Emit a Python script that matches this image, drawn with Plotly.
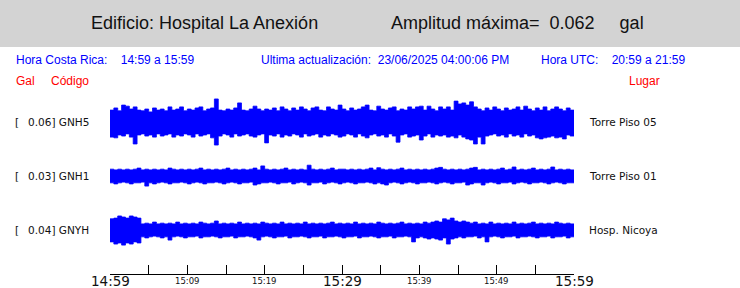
import plotly.graph_objects as go

# ---------------- data ----------------
station_codes = ["GNH5", "GNH1", "GNYH"]
station_places = ["Torre Piso 05", "Torre Piso 01", "Hosp. Nicoya"]
station_max_gal = ["0.06", "0.03", "0.04"]

tick_minutes = [0, 5, 10, 15, 20, 25, 30, 35, 40, 45, 50, 55, 60]
label_minutes = [0, 10, 20, 30, 40, 50, 60]
label_texts = ["14:59", "15:09", "15:19", "15:29", "15:39", "15:49", "15:59"]
label_big = [True, False, False, True, False, False, True]

# envelope of each record (gal), half-minute bins, above / below the trace line
gnh5_up = [0.033,0.039,0.031,0.047,0.044,0.036,0.042,0.033,0.031,0.036,0.028,0.039,0.033,0.036,0.031,0.042,
           0.033,0.036,0.042,0.031,0.036,0.033,0.039,0.042,0.031,0.036,0.039,0.064,0.033,0.031,0.036,0.033,
           0.039,0.053,0.033,0.031,0.036,0.044,0.036,0.031,0.036,0.033,0.039,0.031,0.042,0.036,0.031,0.039,
           0.033,0.042,0.036,0.031,0.039,0.042,0.033,0.031,0.042,0.036,0.033,0.047,0.036,0.031,0.039,0.033,
           0.036,0.042,0.047,0.033,0.031,0.044,0.036,0.033,0.039,0.042,0.031,0.036,0.033,0.042,0.036,0.042,
           0.044,0.033,0.044,0.036,0.031,0.042,0.036,0.042,0.033,0.058,0.050,0.053,0.047,0.056,0.042,0.036,
           0.031,0.039,0.033,0.042,0.036,0.031,0.039,0.033,0.036,0.042,0.033,0.044,0.036,0.031,0.039,0.033,
           0.042,0.031,0.036,0.042,0.036,0.031,0.039,0.033]
gnh5_dn = [0.042,0.044,0.036,0.039,0.033,0.042,0.061,0.036,0.033,0.039,0.036,0.042,0.033,0.039,0.036,0.033,
           0.042,0.036,0.039,0.033,0.036,0.042,0.033,0.039,0.036,0.033,0.044,0.064,0.039,0.033,0.036,0.042,
           0.033,0.039,0.036,0.033,0.039,0.042,0.036,0.033,0.058,0.036,0.039,0.033,0.042,0.036,0.039,0.033,
           0.036,0.042,0.033,0.039,0.036,0.033,0.042,0.036,0.039,0.033,0.036,0.042,0.039,0.033,0.036,0.042,
           0.033,0.039,0.044,0.036,0.033,0.039,0.036,0.042,0.033,0.039,0.056,0.036,0.033,0.042,0.039,0.036,
           0.050,0.039,0.033,0.042,0.036,0.039,0.036,0.042,0.039,0.044,0.036,0.042,0.047,0.050,0.061,0.042,
           0.061,0.039,0.036,0.033,0.039,0.036,0.042,0.033,0.039,0.036,0.042,0.033,0.039,0.036,0.044,0.047,
           0.044,0.042,0.039,0.044,0.042,0.047,0.036,0.039]
gnh1_up = [0.019,0.017,0.019,0.017,0.019,0.017,0.019,0.022,0.017,0.019,0.017,0.019,0.017,0.019,0.017,0.022,
           0.019,0.017,0.019,0.017,0.019,0.017,0.019,0.022,0.017,0.019,0.017,0.019,0.017,0.019,0.022,0.017,
           0.019,0.017,0.019,0.017,0.019,0.022,0.017,0.028,0.019,0.017,0.019,0.017,0.019,0.022,0.017,0.019,
           0.017,0.019,0.017,0.030,0.019,0.017,0.019,0.017,0.019,0.022,0.017,0.019,0.019,0.017,0.019,0.017,
           0.019,0.017,0.019,0.022,0.017,0.023,0.019,0.017,0.019,0.017,0.019,0.022,0.017,0.019,0.017,0.019,
           0.017,0.019,0.017,0.019,0.022,0.024,0.019,0.017,0.019,0.017,0.019,0.017,0.019,0.022,0.024,0.017,
           0.019,0.017,0.019,0.017,0.019,0.022,0.017,0.019,0.025,0.017,0.019,0.017,0.019,0.022,0.017,0.019,
           0.017,0.019,0.025,0.017,0.019,0.017,0.019,0.017]
gnh1_dn = [0.019,0.022,0.019,0.017,0.019,0.022,0.019,0.019,0.017,0.028,0.019,0.022,0.019,0.017,0.019,0.022,
           0.019,0.019,0.017,0.019,0.022,0.019,0.017,0.019,0.022,0.019,0.019,0.017,0.019,0.022,0.019,0.017,
           0.019,0.022,0.019,0.019,0.017,0.025,0.022,0.019,0.019,0.017,0.019,0.022,0.019,0.019,0.017,0.022,
           0.019,0.017,0.019,0.025,0.019,0.019,0.017,0.022,0.019,0.017,0.019,0.022,0.019,0.017,0.019,0.022,
           0.019,0.019,0.017,0.019,0.022,0.019,0.022,0.025,0.019,0.017,0.019,0.022,0.019,0.017,0.019,0.022,
           0.019,0.019,0.017,0.019,0.022,0.019,0.017,0.019,0.022,0.019,0.019,0.017,0.025,0.022,0.019,0.019,
           0.025,0.019,0.017,0.019,0.022,0.019,0.019,0.017,0.022,0.019,0.017,0.019,0.022,0.019,0.019,0.017,
           0.019,0.022,0.019,0.017,0.019,0.022,0.019,0.019]
gnyh_up = [0.031,0.033,0.039,0.036,0.033,0.039,0.036,0.033,0.017,0.019,0.017,0.022,0.017,0.019,0.017,0.019,
           0.017,0.022,0.017,0.019,0.017,0.019,0.017,0.022,0.019,0.017,0.019,0.025,0.017,0.019,0.017,0.019,
           0.017,0.022,0.017,0.019,0.017,0.019,0.017,0.022,0.019,0.017,0.019,0.017,0.022,0.017,0.019,0.017,
           0.019,0.017,0.022,0.017,0.019,0.017,0.019,0.017,0.019,0.022,0.017,0.019,0.017,0.019,0.017,0.022,
           0.017,0.019,0.017,0.019,0.017,0.022,0.019,0.017,0.019,0.017,0.019,0.022,0.017,0.019,0.017,0.019,
           0.017,0.022,0.019,0.022,0.025,0.022,0.031,0.028,0.033,0.025,0.022,0.025,0.022,0.019,0.022,0.017,
           0.019,0.017,0.022,0.017,0.019,0.017,0.019,0.017,0.022,0.017,0.019,0.017,0.019,0.022,0.017,0.019,
           0.017,0.019,0.017,0.022,0.019,0.017,0.019,0.017]
gnyh_dn = [0.033,0.039,0.036,0.042,0.036,0.039,0.033,0.036,0.019,0.022,0.019,0.017,0.019,0.022,0.019,0.028,
           0.019,0.017,0.019,0.022,0.019,0.019,0.017,0.022,0.019,0.019,0.017,0.019,0.022,0.019,0.019,0.017,
           0.022,0.019,0.019,0.017,0.019,0.022,0.028,0.019,0.017,0.019,0.022,0.019,0.019,0.017,0.022,0.019,
           0.019,0.017,0.019,0.022,0.019,0.019,0.017,0.022,0.019,0.019,0.017,0.019,0.022,0.019,0.019,0.017,
           0.022,0.019,0.019,0.017,0.019,0.022,0.019,0.019,0.017,0.022,0.019,0.019,0.017,0.019,0.033,0.022,
           0.019,0.022,0.025,0.022,0.025,0.028,0.022,0.039,0.025,0.022,0.019,0.022,0.019,0.019,0.017,0.022,
           0.019,0.033,0.019,0.017,0.019,0.022,0.019,0.019,0.017,0.022,0.019,0.019,0.017,0.019,0.022,0.019,
           0.019,0.017,0.022,0.019,0.019,0.017,0.022,0.019]

envelopes = [(gnh5_up, gnh5_dn), (gnh1_up, gnh1_dn), (gnyh_up, gnyh_dn)]
trace_spacing_gal = 0.15
record_minutes = 60

# ---------------- layout geometry (pixels) ----------------
W, H = 740, 288
px_x0, px_x1 = 110, 574          # plot left/right
px_top, px_bot = 90, 274         # plot top/bottom (axis line)
px_center0 = 122                  # first trace centre
px_spacing = 54
gal_per_px = trace_spacing_gal / px_spacing
y_top = (px_center0 - px_top) * gal_per_px
y_bot = -(px_bot - px_center0) * gal_per_px

def py(p):  # pixel row -> paper y
    return 1 - p / H

def px(p):
    return p / W

BLUE = "#0000ff"
RED = "#ff0000"
WAVE = "#0000ff"

fig = go.Figure()

for k, (up, dn) in enumerate(envelopes):
    c = -k * trace_spacing_gal
    n = len(up)
    t = [i * record_minutes / n for i in range(n)] + [record_minutes]
    lo = [c - v for v in dn] + [c - dn[-1]]
    hi = [c + v for v in up] + [c + up[-1]]
    fig.add_trace(go.Scatter(x=t, y=lo, mode="lines", line=dict(color=WAVE, width=0.8, shape="hv"),
                             hoverinfo="skip", showlegend=False))
    fig.add_trace(go.Scatter(x=t, y=hi, mode="lines", line=dict(color=WAVE, width=0.8, shape="hv"),
                             fill="tonexty", fillcolor=WAVE, hoverinfo="skip", showlegend=False))

ann = []
# header
head_font = dict(family="Liberation Sans Narrow, Liberation Sans, Arial", size=18, color="#111111")
ann.append(dict(text="Edificio: Hospital La Anexión", x=px(89), y=py(23), xref="paper", yref="paper",
                xanchor="left", yanchor="middle", showarrow=False, font=head_font))
ann.append(dict(text="Amplitud máxima=  0.062     gal", x=px(389), y=py(23), xref="paper", yref="paper",
                xanchor="left", yanchor="middle", showarrow=False, font=head_font))

info_font = dict(family="Liberation Sans Narrow, Liberation Sans, Arial", size=12, color=BLUE)
for txt, x0 in [("Hora Costa Rica:&nbsp;&nbsp;&nbsp;&nbsp;14:59 a 15:59", 14),
                ("Ultima actualización:&nbsp;&nbsp;23/06/2025 04:00:06 PM", 259),
                ("Hora UTC:&nbsp;&nbsp;&nbsp;&nbsp;20:59 a 21:59", 539)]:
    ann.append(dict(text=txt, x=px(x0), y=py(60), xref="paper", yref="paper", xanchor="left",
                    yanchor="middle", showarrow=False, font=info_font))
red_font = dict(family="Liberation Sans Narrow, Liberation Sans, Arial", size=12, color=RED)
for txt, x0 in [("Gal", 14), ("Código", 49), ("Lugar", 627)]:
    ann.append(dict(text=txt, x=px(x0), y=py(81), xref="paper", yref="paper", xanchor="left",
                    yanchor="middle", showarrow=False, font=red_font))

lab_font = dict(family="DejaVu Sans", size=10.5, color="#111111")
for k in range(len(station_codes)):
    c = -k * trace_spacing_gal
    ann.append(dict(text="[", x=px(13), y=c, xref="paper", yref="y", xanchor="left", yanchor="middle",
                    showarrow=False, font=lab_font))
    ann.append(dict(text=f"{station_max_gal[k]}] {station_codes[k]}", x=px(91), y=c, xref="paper",
                    yref="y", xanchor="right", yanchor="middle", showarrow=False, font=lab_font))
    ann.append(dict(text=station_places[k], x=px(587), y=c, xref="paper", yref="y", xanchor="left",
                    yanchor="middle", showarrow=False, font=lab_font))

for m, txt, big in zip(label_minutes, label_texts, label_big):
    ann.append(dict(text=txt, x=m, y=py(px_bot), xref="x", yref="paper", xanchor="center",
                    yanchor="top", yshift=(3 if big else 0), showarrow=False,
                    font=dict(family="DejaVu Sans", size=(13.5 if big else 8.5), color="#111111")))

fig.update_layout(
    width=W, height=H, margin=dict(l=0, r=0, t=0, b=0),
    paper_bgcolor="white", plot_bgcolor="white",
    xaxis=dict(domain=[px(px_x0), px(px_x1)], range=[0, record_minutes], tickvals=tick_minutes,
               showticklabels=False, ticks="inside", ticklen=9, tickwidth=1, tickcolor="black",
               showline=True, linecolor="black", linewidth=1, showgrid=False, zeroline=False,
               fixedrange=True),
    yaxis=dict(domain=[py(px_bot), py(px_top)], range=[y_bot, y_top], visible=False, fixedrange=True),
    shapes=[dict(type="rect", xref="paper", yref="paper", x0=0, x1=1, y0=py(47), y1=1,
                 fillcolor="#d3d3d3", line=dict(width=0), layer="below")],
    annotations=ann,
)

fig.write_html("out.html")
